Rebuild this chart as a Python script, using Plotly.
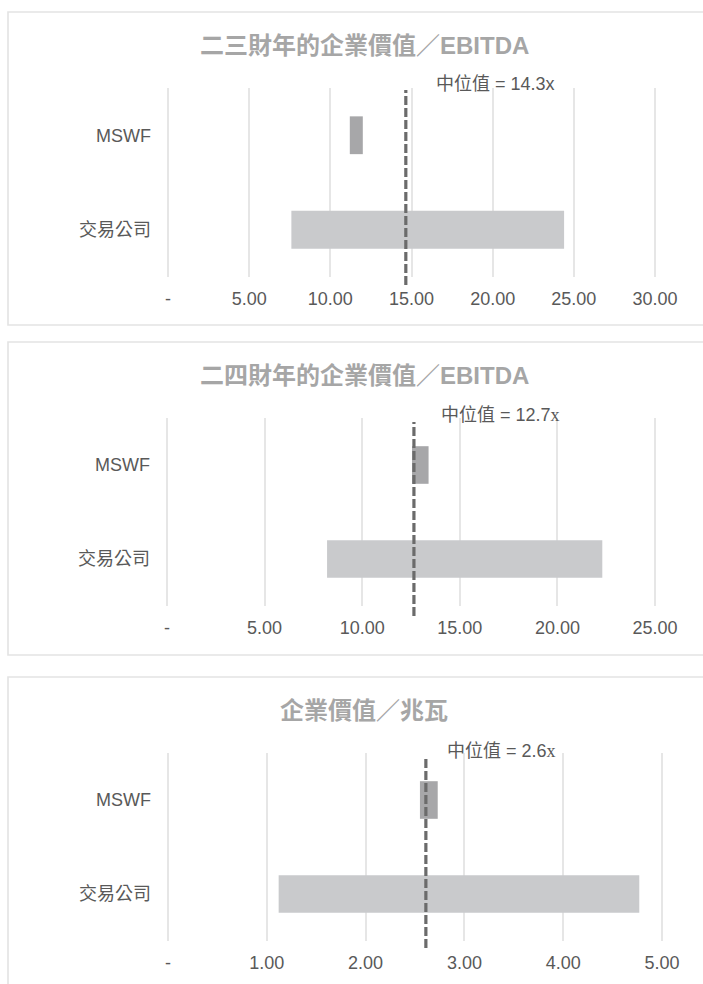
import plotly.graph_objects as go

# ---- data ----
categories = ["MSWF", "交易公司"]
titles = ["二三財年的企業價值／EBITDA", "二四財年的企業價值／EBITDA", "企業價值／兆瓦"]
lows = [[11.2, 7.6], [12.55, 8.2], [2.55, 1.12]]
highs = [[12.0, 24.4], [13.4, 22.3], [2.73, 4.77]]
medians = [14.65, 12.65, 2.61]
median_labels = ["中位值 = 14.3x",
                 "中位值 = 12.7<span style='font-family:Liberation Serif'>x</span>",
                 "中位值 = 2.6<span style='font-family:Liberation Serif'>x</span>"]
tick_vals = [[0, 5, 10, 15, 20, 25, 30], [0, 5, 10, 15, 20, 25], [0, 1, 2, 3, 4, 5]]
tick_text = [["-", "5.00", "10.00", "15.00", "20.00", "25.00", "30.00"],
             ["-", "5.00", "10.00", "15.00", "20.00", "25.00"],
             ["-", "1.00", "2.00", "3.00", "4.00", "5.00"]]
x_ranges = [[0, 30], [0, 25], [0, 5]]

# ---- layout geometry (pixels) ----
W, H = 703, 984
FONT = "Liberation Sans, Arial, Noto Sans CJK TC, sans-serif"
TEXT = "#595959"
bar_colors = ["#a7a7a9", "#c9cacc"]

plot_x = [(168, 655), (167, 655), (168, 662)]   # pixel position of range min / max
plot_y = [(88, 277), (418, 606), (753, 941)]
dash_y = [(90, 285), (422, 616), (756, 948)]
boxes = [(8, 12, 712, 325), (8, 342, 712, 655), (8, 677, 712, 992)]
title_y = [45, 375, 710]
label_pos = [(434, 84), (439, 415), (445, 751)]
PAD = 4  # px padding so edge gridlines are drawn

def px(x):
    return x / W

def py(y):
    return 1 - y / H

fig = go.Figure()
shapes = []
annotations = []

for i in range(3):
    sfx = "" if i == 0 else str(i + 1)
    xa, ya = "x" + sfx, "y" + sfx
    base = lows[i]
    length = [h - l for h, l in zip(highs[i], lows[i])]
    fig.add_trace(go.Bar(
        y=categories, x=length, base=base, orientation="h",
        marker=dict(color=bar_colors, line=dict(width=0)),
        xaxis=xa, yaxis=ya, showlegend=False, hoverinfo="skip",
    ))
    lo, hi = x_ranges[i]
    ppu = (plot_x[i][1] - plot_x[i][0]) / (hi - lo)
    fig.layout["xaxis" + sfx] = dict(
        domain=[px(plot_x[i][0] - PAD), px(plot_x[i][1] + PAD)],
        range=[lo - PAD / ppu, hi + PAD / ppu],
        anchor=ya, tickvals=tick_vals[i], ticktext=tick_text[i],
        showgrid=True, gridcolor="#e6e6e6", gridwidth=2, zeroline=False,
        showline=False, ticks="", ticklabelstandoff=9, automargin=False,
        tickfont=dict(family=FONT, size=18, color=TEXT), fixedrange=True,
    )
    fig.layout["yaxis" + sfx] = dict(
        domain=[py(plot_y[i][1]), py(plot_y[i][0])], anchor=xa,
        type="category", categoryarray=categories, range=[1.5, -0.5],
        showgrid=False, zeroline=False, showline=False, ticks="",
        ticklabelstandoff=12, automargin=False,
        tickfont=dict(family=FONT, size=18, color=TEXT), fixedrange=True,
    )
    # panel border
    x0, y0, x1, y1 = boxes[i]
    shapes.append(dict(type="rect", xref="paper", yref="paper",
                       x0=px(x0), x1=px(x1), y0=py(y1), y1=py(y0),
                       line=dict(color="#e3e3e3", width=1.6), fillcolor="rgba(0,0,0,0)",
                       layer="below"))
    # median dashed line
    shapes.append(dict(type="line", xref=xa, yref="paper",
                       x0=medians[i], x1=medians[i],
                       y0=py(dash_y[i][1]), y1=py(dash_y[i][0]),
                       line=dict(color="#6b6b6b", width=3.2, dash="9px,3px"),
                       layer="above"))
    # title
    annotations.append(dict(text="<b>" + titles[i] + "</b>", xref="paper", yref="paper",
                            x=px(364), y=py(title_y[i]), xanchor="center", yanchor="middle",
                            showarrow=False,
                            font=dict(family=FONT, size=24, color="#a6a6a6")))
    # median label
    lx, ly = label_pos[i]
    annotations.append(dict(text=median_labels[i], xref="paper", yref="paper",
                            x=px(lx), y=py(ly), xanchor="left", yanchor="middle",
                            showarrow=False,
                            font=dict(family=FONT, size=18, color=TEXT)))

fig.update_layout(
    width=W, height=H, autosize=False, margin=dict(l=0, r=0, t=0, b=0, autoexpand=False),
    paper_bgcolor="white", plot_bgcolor="white",
    bargap=0.6, shapes=shapes, annotations=annotations,
    font=dict(family=FONT, color=TEXT),
)

fig.write_html("out.html", config={"displayModeBar": False})
